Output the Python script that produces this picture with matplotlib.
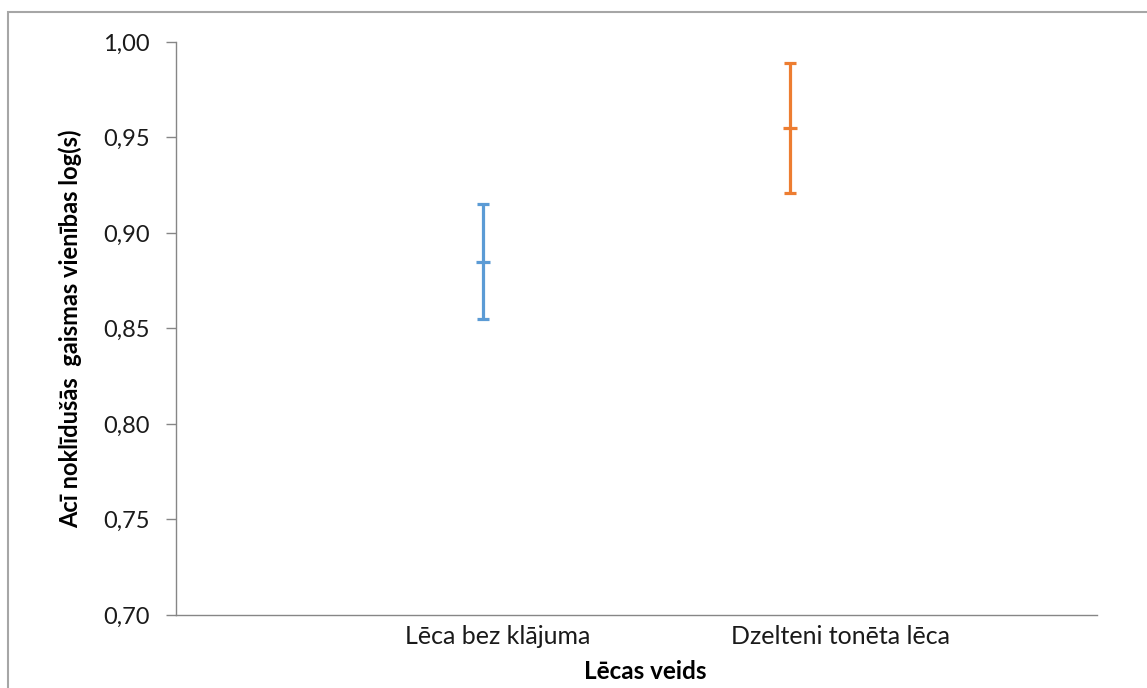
import matplotlib.pyplot as plt
from matplotlib.patches import Rectangle

plt.rcParams["font.family"] = ["Lato", "DejaVu Sans"]

categories = ["Lēca bez klājuma", "Dzelteni tonēta lēca"]
means = [0.885, 0.955]
errors = [0.030, 0.034]
colors = ["#5B9BD5", "#ED7D31"]
yticks = [0.70, 0.75, 0.80, 0.85, 0.90, 0.95, 1.00]

fig = plt.figure(figsize=(11.47, 6.88), dpi=100)
ax = fig.add_axes([0.1534, 0.1061, 0.8030, 0.8329])

# outer chart border
fig.patches.append(Rectangle((8 / 1147, -0.05), 1.1, 1.05 - 12 / 688,
                             transform=fig.transFigure, fill=False,
                             edgecolor="#A6A6A6", linewidth=1.5))

positions = [1, 2]
for x, m, e, c in zip(positions, means, errors, colors):
    ax.errorbar(x, m, yerr=e, fmt="none", ecolor=c, elinewidth=2.3,
                capsize=4.3, capthick=2.3)
    ax.plot(x, m, marker="_", markersize=10, markeredgewidth=2.3, color=c)

ax.set_xlim(0, 3)
ax.set_ylim(0.70, 1.00)
# category labels sit a bit right of the bars, as in the original
ax.set_xticks([1.047, 2.165])
ax.set_xticklabels(categories, fontsize=18, color="#1a1a1a")
ax.set_yticks(yticks)
ax.set_yticklabels([f"{v:.2f}".replace(".", ",") for v in yticks],
                   fontsize=17, color="#1a1a1a")
ax.tick_params(axis="x", length=0, pad=7)
ax.tick_params(axis="y", length=7, width=1, color="#868686", pad=12)

for s in ["top", "right"]:
    ax.spines[s].set_visible(False)
for s in ["left", "bottom"]:
    ax.spines[s].set_color("#868686")
    ax.spines[s].set_linewidth(1)

ax.set_xlabel("Lēcas veids", fontsize=17.5, fontweight="bold")
ax.set_ylabel("Acī noklīdušās  gaismas vienības log(s)", fontsize=17,
              fontweight="bold")
ax.xaxis.set_label_coords(0.510, -0.078)
ax.yaxis.set_label_coords(-0.102, 0.499)

fig.savefig("out.png", dpi=100)
